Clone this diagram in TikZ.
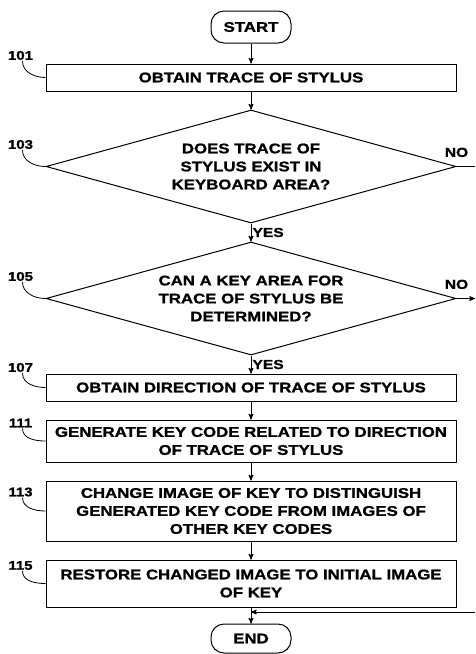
\documentclass[tikz,border=0pt]{standalone}
\usepackage{fontspec}
\setmainfont{Liberation Sans}[FakeStretch=1.2, BoldFeatures={FakeBold=1.2}]
\usetikzlibrary{arrows, positioning, shapes}
\tikzset{
        >=stealth', % small filled arrow heads
        node distance=18pt, % gap between two steps of the chart
        every node/.style={font=\fontsize{14}{18}\selectfont\bfseries}, % bold caps everywhere
    }
\tikzset{
      terminal/.style={
		draw, line width=1pt,
		rounded corners=13pt,
		minimum width=80pt,
		minimum height={#1},
	  },
      proc box/.style={
		draw, line width=1pt,
		align=center, inner sep=4pt,
		minimum width=410pt,
		minimum height={#1},
	  },
      decision/.style={
		diamond, draw, line width=1pt,
		aspect=3.6, inner sep=0pt,
		align=center,
		minimum width=410pt,
		minimum height=113pt,
	  },
  		ref num/.style={
    	font=\fontsize{12.5}{14}\selectfont\bfseries, inner sep=1pt,
      },
      answer/.style={
    	font=\fontsize{13}{14}\selectfont\bfseries, inner sep=1pt,
      },
      leader/.style={line width=0.8pt},
      flow/.style={->, line width=1pt},
  	}
\begin{document}
\begin{tikzpicture}[x=1pt, y=-1pt]
    \useasboundingbox (0,0) rectangle (475,654);
    \node [terminal=32pt] (start) at (251,27) {START};
    \node [proc box=27pt, below=20pt of start] (b101) {OBTAIN TRACE OF STYLUS};
    \node [decision, below=of b101] (d103) {DOES TRACE OF\\STYLUS EXIST IN\\KEYBOARD AREA?};
    \node [decision, below=of d103] (d105) {CAN A KEY AREA FOR\\TRACE OF STYLUS BE\\DETERMINED?};
    \node [proc box=27pt, below=of d105] (b107) {OBTAIN DIRECTION OF TRACE OF STYLUS};
    \node [proc box=42pt, below=of b107] (b111) {GENERATE KEY CODE RELATED TO DIRECTION\\OF TRACE OF STYLUS};
    \node [proc box=60pt, below=of b111] (b113) {CHANGE IMAGE OF KEY TO DISTINGUISH\\GENERATED KEY CODE FROM IMAGES OF\\OTHER KEY CODES};
    \node [proc box=47pt, below=of b113] (b115) {RESTORE CHANGED IMAGE TO INITIAL IMAGE\\OF KEY};
    \node [terminal=29pt, below=16pt of b115] (end) {END};

    % main flow
    \draw [flow] (start) -- (b101);
    \draw [flow] (b101) -- (d103);
    \draw [flow] (d103) -- (d105) node [answer, midway, right] {YES};
    \draw [flow] (d105) -- (b107) node [answer, midway, right] {YES};
    \draw [flow] (b107) -- (b111);
    \draw [flow] (b111) -- (b113);
    \draw [flow] (b113) -- (b115);
    \draw [flow] (b115) -- (end);

    % NO branches leave the page on the right
    \coordinate (rim) at (475,0);
    \coordinate (ret) at (475,612);
    \draw [line width=1pt] (d103.east) -- (d103.east -| rim) node [answer, pos=0, above=8pt] {NO};
    \draw [flow] (d105.east) -- (d105.east -| rim) node [answer, pos=0, above=8pt] {NO};
    \draw [flow] (ret) -- (ret -| end.north);

    % reference numerals
    \node [ref num] (n101) at ([shift={(-25pt,22pt)}]b101.west) {101};
    \node [ref num] (n103) at ([shift={(-25pt,22pt)}]d103.west) {103};
    \node [ref num] (n105) at ([shift={(-25pt,22pt)}]d105.west) {105};
    \node [ref num] (n107) at ([shift={(-25pt,20pt)}]b107.west) {107};
    \node [ref num] (n111) at ([shift={(-25pt,18pt)}]b111.west) {111};
    \node [ref num] (n113) at ([shift={(-25pt,19pt)}]b113.west) {113};
    \node [ref num] (n115) at ([shift={(-25pt,18pt)}]b115.west) {115};
    \draw [leader] ([xshift=2pt]n101.south) to [out=-90, in=180] (b101.west);
    \draw [leader] ([xshift=2pt]n103.south) to [out=-90, in=180] (d103.west);
    \draw [leader] ([xshift=2pt]n105.south) to [out=-90, in=180] (d105.west);
    \draw [leader] ([xshift=2pt]n107.south) to [out=-90, in=180] (b107.west);
    \draw [leader] ([xshift=2pt]n111.south) to [out=-90, in=180] (b111.west);
    \draw [leader] ([xshift=2pt]n113.south) to [out=-90, in=180] (b113.west);
    \draw [leader] ([xshift=2pt]n115.south) to [out=-90, in=180] (b115.west);
\end{tikzpicture}
\end{document}
